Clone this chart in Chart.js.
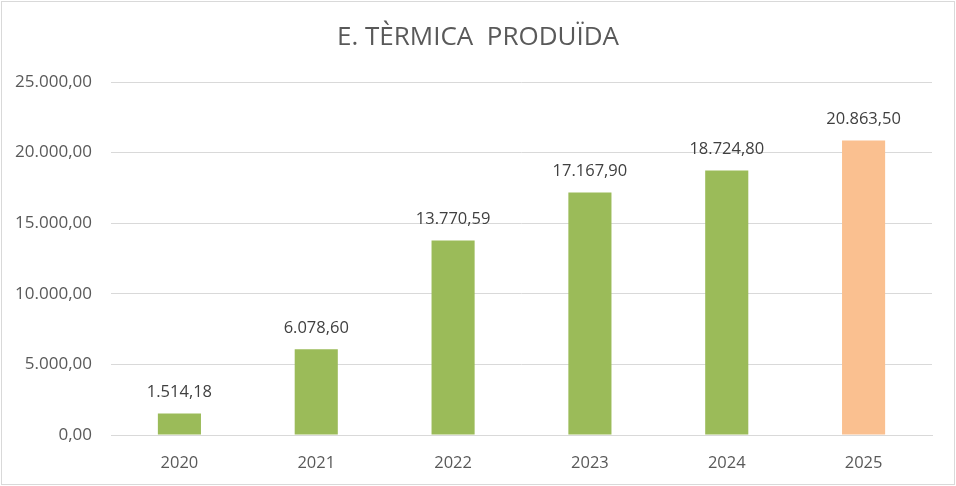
<!DOCTYPE html>
<html>
<head>
<meta charset="utf-8">
<script src="https://cdn.jsdelivr.net/npm/chart.js@4/dist/chart.umd.min.js"></script>
<style>
html,body{margin:0;padding:0;background:#fff;}
#wrap{width:956px;height:486px;position:relative;}
</style>
</head>
<body>
<div id="wrap"><canvas id="c" width="956" height="486"></canvas></div>
<script>
const title = 'E. TÈRMICA  PRODUÏDA';
const categories = ['2020', '2021', '2022', '2023', '2024', '2025'];
const values = [1514.18, 6078.60, 13770.59, 17167.90, 18724.80, 20863.50];
const barColors = ['#9BBB59', '#9BBB59', '#9BBB59', '#9BBB59', '#9BBB59', '#FAC090'];
const yTicks = [0, 5000, 10000, 15000, 20000, 25000];

function fmt(v) {
  const parts = v.toFixed(2).split('.');
  const intPart = parts[0].replace(/\B(?=(\d{3})+(?!\d))/g, '.');
  return intPart + ',' + parts[1];
}

const FONT = '"Open Sans", "Liberation Sans", sans-serif';

const decor = {
  id: 'decor',
  beforeDraw(chart) {
    const ctx = chart.ctx;
    ctx.save();
    ctx.fillStyle = '#ffffff';
    ctx.fillRect(0, 0, chart.width, chart.height);
    ctx.strokeStyle = '#d9d9d9';
    ctx.lineWidth = 1;
    ctx.strokeRect(1.5, 1.5, chart.width - 3, chart.height - 3);
    ctx.fillStyle = '#595959';
    ctx.font = '26px ' + FONT;
    ctx.textAlign = 'center';
    ctx.textBaseline = 'middle';
    ctx.fillText(title, chart.width / 2, 38);
    ctx.restore();
  },
  afterDatasetsDraw(chart) {
    const ctx = chart.ctx;
    const meta = chart.getDatasetMeta(0);
    ctx.save();
    ctx.fillStyle = '#404040';
    ctx.font = '16.5px ' + FONT;
    ctx.textAlign = 'center';
    ctx.textBaseline = 'middle';
    meta.data.forEach((bar, i) => {
      ctx.fillText(fmt(values[i]), bar.x, bar.y - 21);
    });
    ctx.restore();
  }
};

new Chart(document.getElementById('c'), {
  type: 'bar',
  data: {
    labels: categories,
    datasets: [{
      data: values,
      backgroundColor: barColors,
      borderWidth: 0,
      categoryPercentage: 1,
      barPercentage: 0.315
    }]
  },
  options: {
    responsive: false,
    animation: false,
    devicePixelRatio: 1,
    layout: { padding: { top: 82, right: 24, bottom: 0, left: 0 } },
    plugins: { legend: { display: false }, tooltip: { enabled: false }, title: { display: false } },
    scales: {
      x: {
        grid: { display: false, drawTicks: false },
        border: { display: true, color: '#d9d9d9', width: 1 },
        ticks: { color: '#595959', font: { family: FONT, size: 16.5 }, padding: 18 },
        afterFit(scale) { scale.height = 51; }
      },
      y: {
        min: 0, max: 25000,
        afterBuildTicks(scale) { scale.ticks = yTicks.map(v => ({ value: v })); },
        grid: { color: '#d9d9d9', lineWidth: 1, drawTicks: false },
        border: { display: false },
        ticks: { color: '#595959', font: { family: FONT, size: 17 }, padding: 19, callback: v => fmt(v) },
        afterFit(scale) { scale.width = 111; }
      }
    }
  },
  plugins: [decor]
});
</script>
</body>
</html>
